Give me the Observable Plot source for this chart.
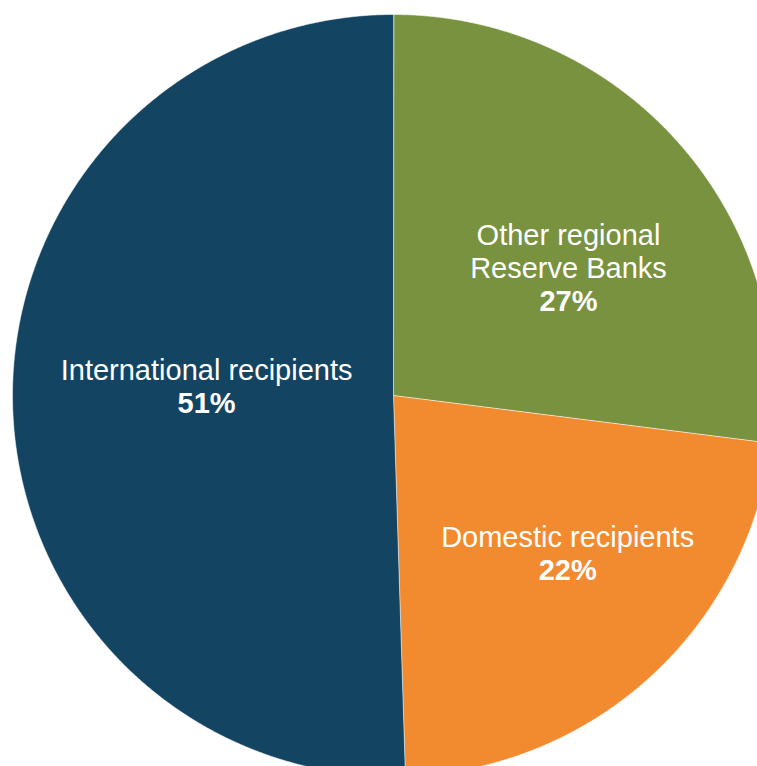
<!DOCTYPE html>
<html><head><meta charset="utf-8">
<script src="https://cdn.jsdelivr.net/npm/d3@7"></script>
<script src="https://cdn.jsdelivr.net/npm/@observablehq/plot@0.6"></script>
<style>html,body{margin:0;padding:0;background:#fff;overflow:hidden}#chart svg{display:block}</style>
</head><body><div id="chart"></div>
<script>
// ---- data ----
const categories = ["Other regional Reserve Banks", "Domestic recipients", "International recipients"];
const labelLines = [["Other regional", "Reserve Banks"], ["Domestic recipients"], ["International recipients"]];
const values = [27, 22.5, 50.5];
const percentLabels = ["27%", "22%", "51%"];
const colors = ["#789240", "#F28B30", "#134563"];

// ---- layout ----
const W = 757, H = 766;
const cx = 393, cy = 395, R = 381;          // pie centre and radius (px)
const labelRadius = [0.567, 0.618, 0.491];  // fraction of radius for label block centre
const labelNudge = [5.5, -5.4, 3.4];        // degrees added to slice mid-angle
const fontSize = 29, lineStep = 33;

const total = d3.sum(values);
let acc = 0;
const slices = values.map((v, i) => {
  const a0 = acc / total * 2 * Math.PI;
  acc += v;
  const a1 = acc / total * 2 * Math.PI;
  return {cat: categories[i], a0, a1, i};
});

// polygon points of each wedge (unit radius, angle clockwise from 12 o'clock)
const wedgePts = [];
for (const s of slices) {
  wedgePts.push({cat: s.cat, x: 0, y: 0});
  const n = Math.max(2, Math.ceil((s.a1 - s.a0) / (Math.PI / 720)));
  for (let k = 0; k <= n; k++) {
    const a = s.a0 + (s.a1 - s.a0) * k / n;
    wedgePts.push({cat: s.cat, x: Math.sin(a), y: Math.cos(a)});
  }
}

// text rows
const textRows = [];
slices.forEach((s, i) => {
  const mid = (s.a0 + s.a1) / 2 + labelNudge[i] * Math.PI / 180;
  const ax = labelRadius[i] * Math.sin(mid);
  const ay = labelRadius[i] * Math.cos(mid);
  const lines = [...labelLines[i], percentLabels[i]];
  const n = lines.length;
  lines.forEach((t, k) => {
    const off = (k - (n - 1) / 2) * lineStep;
    textRows.push({text: t, x: ax, y: ay - off / R, bold: k === n - 1});
  });
});

const chart = Plot.plot({
  width: W, height: H,
  margin: 0,
  style: {background: "#ffffff", fontFamily: "'Liberation Sans', Arial, sans-serif"},
  x: {domain: [-cx / R, (W - cx) / R], axis: null},
  y: {domain: [-(H - cy) / R, cy / R], axis: null},
  color: {domain: categories, range: colors},
  marks: [
    Plot.line(wedgePts, {x: "x", y: "y", z: "cat", fill: "cat", stroke: "white", strokeWidth: 1, strokeOpacity: 0.55, curve: "linear-closed"}),
    Plot.text(textRows.filter(d => !d.bold), {x: "x", y: "y", text: "text", fill: "white", fontSize, textAnchor: "middle"}),
    Plot.text(textRows.filter(d => d.bold), {x: "x", y: "y", text: "text", fill: "white", fontSize, fontWeight: "bold", textAnchor: "middle"})
  ]
});
document.getElementById("chart").append(chart);
</script>
</body></html>
